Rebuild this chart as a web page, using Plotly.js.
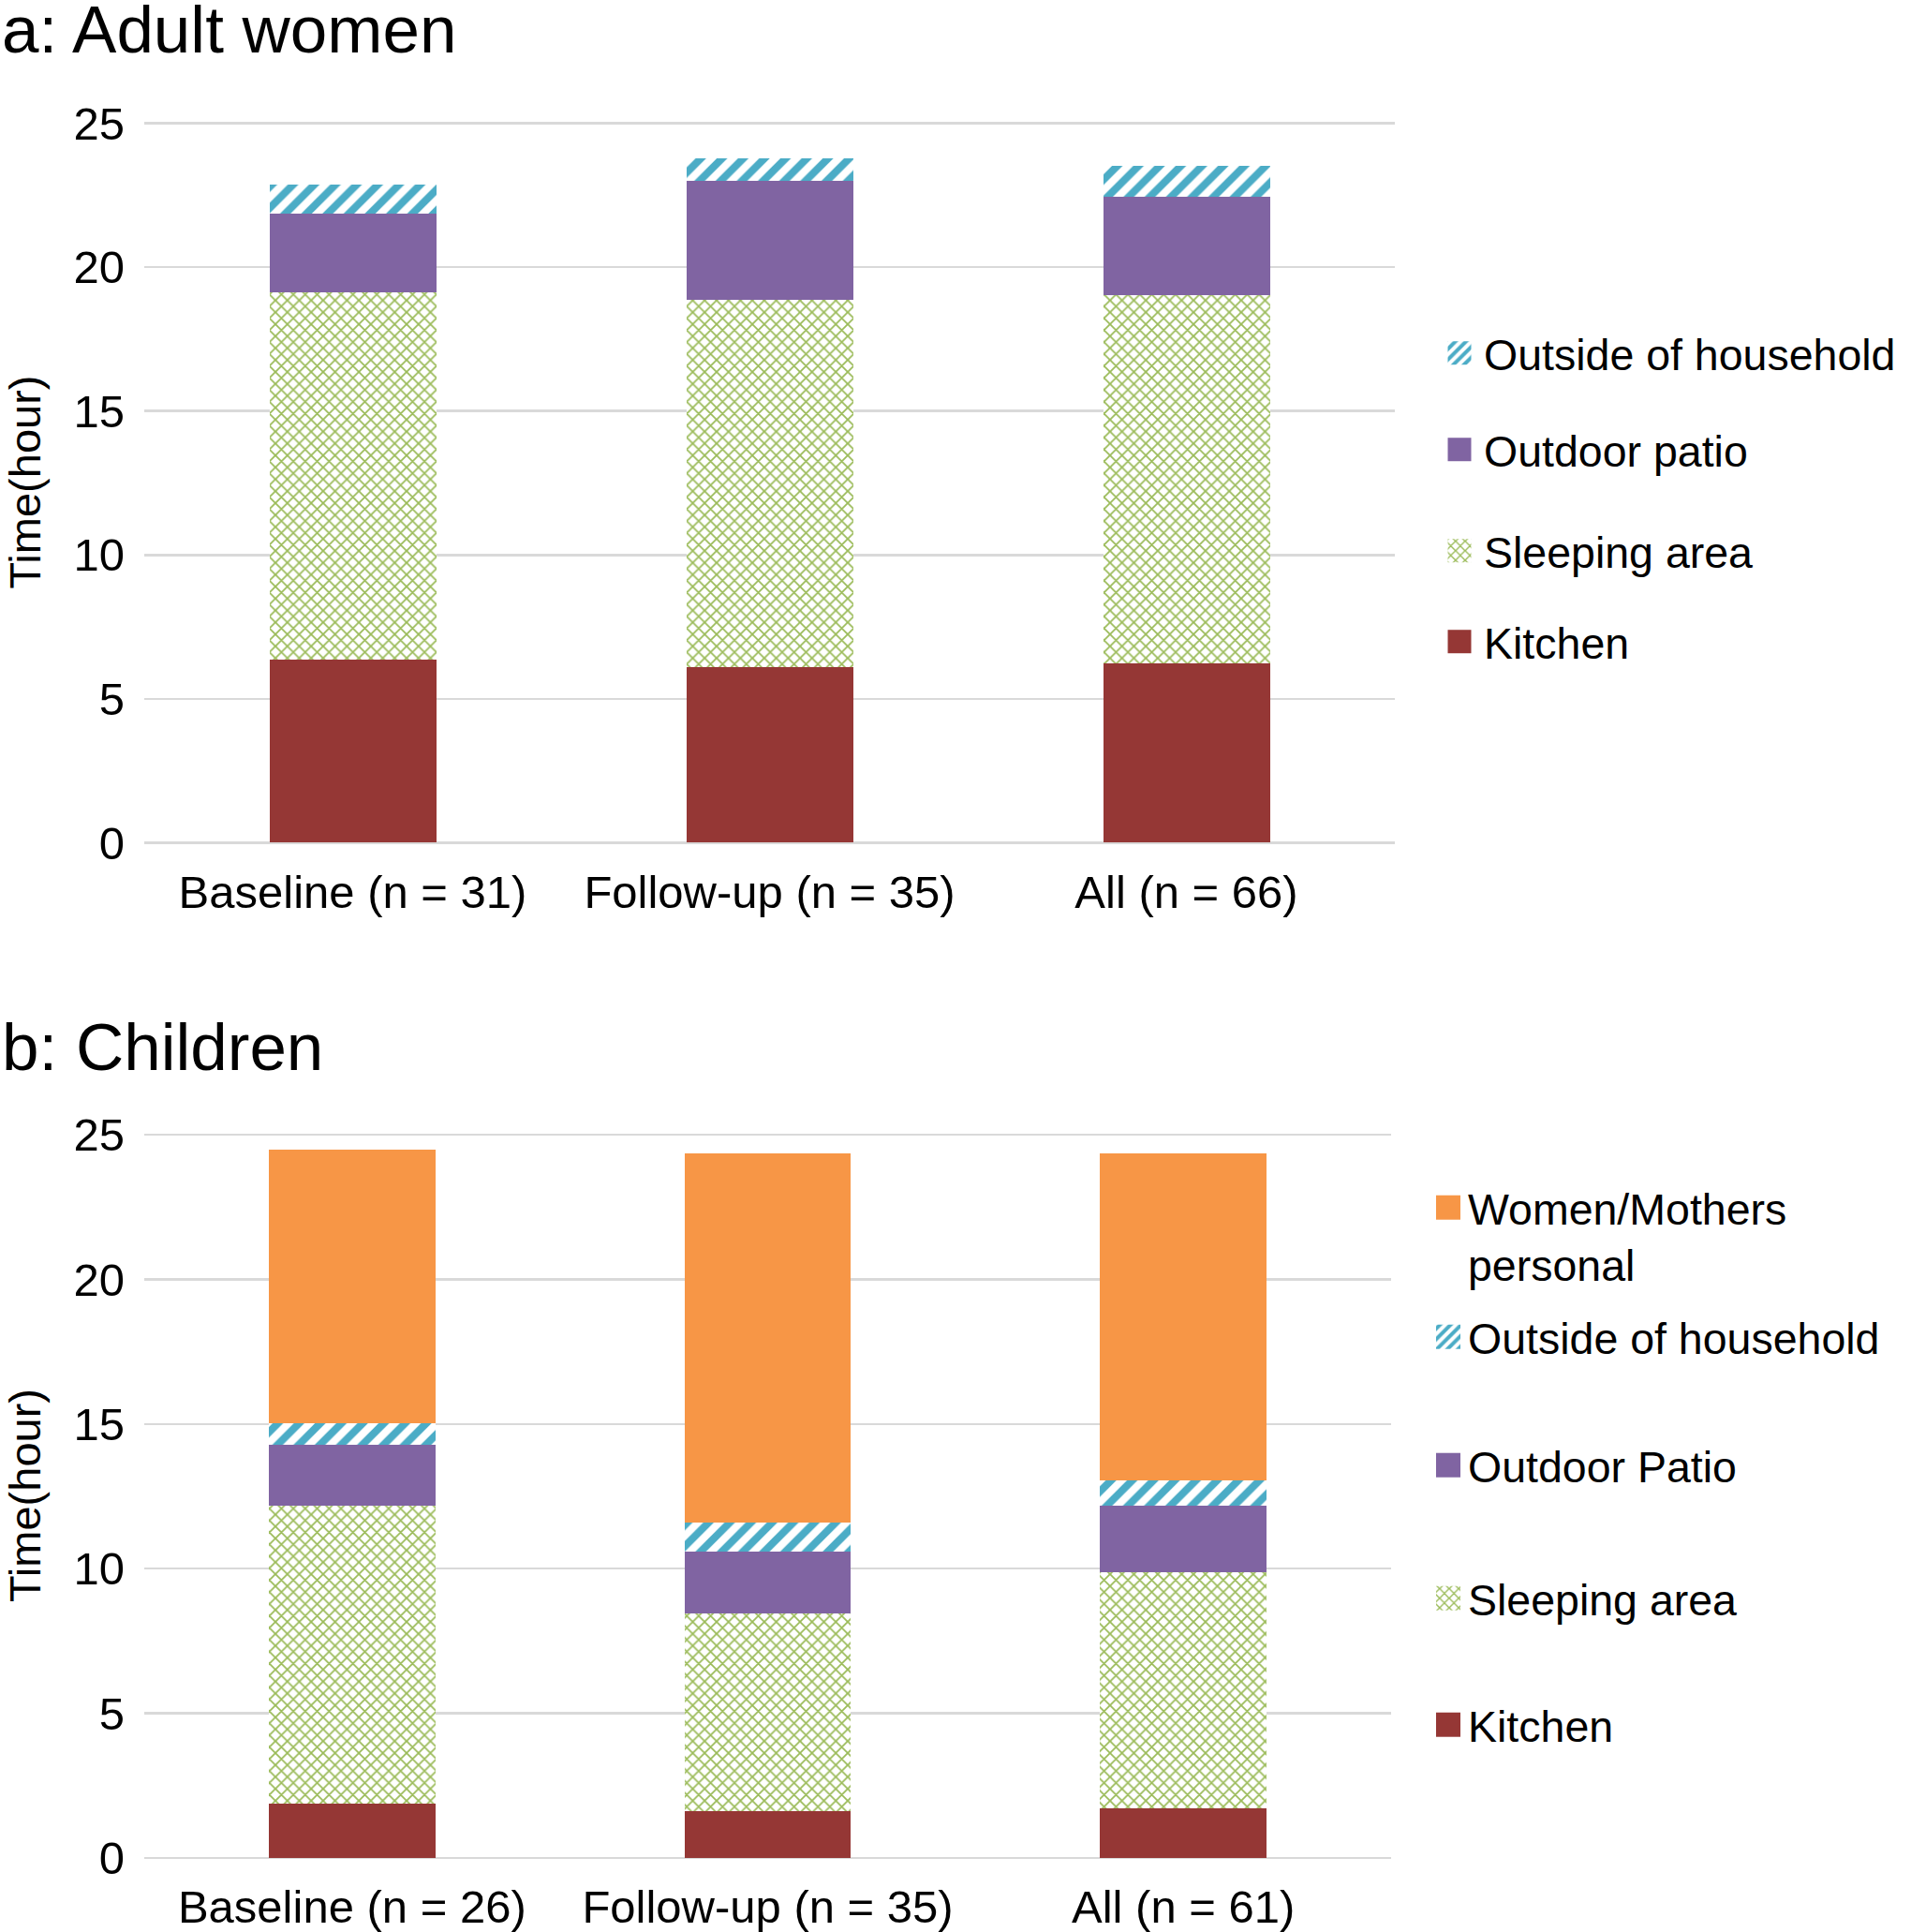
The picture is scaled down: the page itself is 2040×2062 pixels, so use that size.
<!DOCTYPE html>
<html>
<head>
<meta charset="utf-8">
<script src="https://cdn.plot.ly/plotly-3.0.1.min.js"></script>
<style>html,body{margin:0;padding:0;background:#fff;}#chart{width:2040px;height:2062px;}</style>
</head>
<body>
<div id="chart"></div>
<script>
// ---- data ----
const categoriesWomen = ['Baseline (n = 31)', 'Follow-up (n = 35)', 'All (n = 66)'];
const categoriesChildren = ['Baseline (n = 26)', 'Follow-up (n = 35)', 'All (n = 61)'];

const womenKitchen  = [6.37, 6.10, 6.22];
const womenSleeping = [12.76, 12.78, 12.80];
const womenPatio    = [2.72, 4.11, 3.41];
const womenOutside  = [1.03, 0.79, 1.08];

const childKitchen  = [1.87, 1.62, 1.72];
const childSleeping = [10.30, 6.83, 8.17];
const childPatio    = [2.12, 2.13, 2.28];
const childOutside  = [0.75, 1.02, 0.87];
const childMothers  = [9.45, 12.75, 11.31];

const yTickVals = [0, 5, 10, 15, 20, 25];

// ---- styles ----
const FONT = 'Arial, "Liberation Sans", sans-serif';
const C_KITCHEN = '#953735';
const C_PATIO = '#8064A2';
const C_OUTSIDE = '#4BACC6';
const C_SLEEP = '#9BBB59';
const C_MOTHER = '#F79646';

function solid(color) {
  return {color: color, line: {width: 0}};
}
function stripes() {
  return {color: C_OUTSIDE, line: {width: 0},
    pattern: {shape: '/', fgcolor: C_OUTSIDE, bgcolor: '#ffffff', size: 16, solidity: 0.5}};
}
function dots() {
  return {color: C_SLEEP, line: {width: 0},
    pattern: {shape: 'x', fgcolor: C_SLEEP, bgcolor: '#ffffff', size: 9, solidity: 0.35}};
}

function bar(x, y, name, marker, xa, ya, legend) {
  return {type: 'bar', x: x, y: y, name: name, marker: marker,
    xaxis: xa, yaxis: ya, legend: legend, hoverinfo: 'y+name'};
}

const traces = [
  bar(categoriesWomen, womenKitchen, 'Kitchen', solid(C_KITCHEN), 'x', 'y', 'legend4'),
  bar(categoriesWomen, womenSleeping, 'Sleeping area', dots(), 'x', 'y', 'legend3'),
  bar(categoriesWomen, womenPatio, 'Outdoor patio', solid(C_PATIO), 'x', 'y', 'legend2'),
  bar(categoriesWomen, womenOutside, 'Outside of household', stripes(), 'x', 'y', 'legend'),

  bar(categoriesChildren, childKitchen, 'Kitchen', solid(C_KITCHEN), 'x2', 'y2', 'legend9'),
  bar(categoriesChildren, childSleeping, 'Sleeping area', dots(), 'x2', 'y2', 'legend8'),
  bar(categoriesChildren, childPatio, 'Outdoor Patio', solid(C_PATIO), 'x2', 'y2', 'legend7'),
  bar(categoriesChildren, childOutside, 'Outside of household', stripes(), 'x2', 'y2', 'legend6'),
  bar(categoriesChildren, childMothers, 'Women/Mothers<br>personal', solid(C_MOTHER), 'x2', 'y2', 'legend5')
];

const H = 2062, W = 2040;
const py = p => 1 - p / H;
const px = p => p / W;
const YMAX = 25.06; // tiny headroom so the 25 gridline is drawn

function xaxis(d0, d1, anchor) {
  return {domain: [px(d0), px(d1)], anchor: anchor, showgrid: false, showline: false,
    zeroline: false, ticks: '', ticklabelstandoff: 19,
    tickfont: {family: FONT, size: 49, color: '#000'}, fixedrange: true};
}
function yaxis(d0, d1, anchor) {
  return {domain: [py(d1), py(d0)], anchor: anchor, range: [0, YMAX],
    tickvals: yTickVals, ticktext: yTickVals.map(String),
    showgrid: true, gridcolor: '#D9D9D9', gridwidth: 2.5,
    zeroline: true, zerolinecolor: '#D9D9D9', zerolinewidth: 2.5,
    showline: false, ticks: '', ticklabelstandoff: 20,
    tickfont: {family: FONT, size: 49, color: '#000'},
    title: {text: 'Time(hour)', font: {family: FONT, size: 47, color: '#000'}, standoff: 28},
    fixedrange: true};
}

function leg(xp, yp, valign) {
  return {x: px(xp), y: py(yp), xanchor: 'left', yanchor: 'middle',
    bgcolor: 'rgba(0,0,0,0)', borderwidth: 0, valign: valign || 'middle',
    font: {family: FONT, size: 46.5, color: '#000'}};
}

// plot areas: 25-line at 131.5 / 1211, 0-line at 899.5 / 1983
const topPx = (y25, y0) => y25 - (YMAX - 25) * (y0 - y25) / 25;

const layout = {
  width: W, height: H,
  margin: {l: 0, r: 0, t: 0, b: 0},
  paper_bgcolor: '#fff', plot_bgcolor: '#fff',
  barmode: 'stack', bargap: 0.6,
  font: {family: FONT, color: '#000'},
  showlegend: true,
  xaxis: xaxis(154, 1489, 'y'),
  yaxis: yaxis(topPx(131.5, 899.5), 899.5, 'x'),
  xaxis2: xaxis(154, 1485, 'y2'),
  yaxis2: yaxis(topPx(1211, 1983), 1983, 'x2'),
  legend:  leg(1544, 377),
  legend2: leg(1544, 480),
  legend3: leg(1544, 588),
  legend4: leg(1544, 685),
  legend5: leg(1527, 1319, 'top'),
  legend6: leg(1527, 1427),
  legend7: leg(1527, 1564),
  legend8: leg(1527, 1706),
  legend9: leg(1527, 1841),
  annotations: [
    {text: 'a: Adult women', xref: 'paper', yref: 'paper', x: 0, y: py(32),
     xanchor: 'left', yanchor: 'middle', showarrow: false,
     font: {family: FONT, size: 71, color: '#000'}},
    {text: 'b: Children', xref: 'paper', yref: 'paper', x: 0, y: py(1117),
     xanchor: 'left', yanchor: 'middle', showarrow: false,
     font: {family: FONT, size: 71, color: '#000'}}
  ]
};

const topLegends = ['legend', 'legend2', 'legend3', 'legend4'];
const bottomLegends = ['legend5', 'legend6', 'legend7', 'legend8', 'legend9'];

function enlargeSwatches() {
  // the reference uses bigger legend squares than Plotly's default 12px swatch
  topLegends.forEach(function (id) {
    document.querySelectorAll('g.' + id + ' .legendpoints path').forEach(function (p) {
      p.setAttribute('d', 'M6.5,12.5H-18.5V-12.5H6.5Z');
    });
  });
  bottomLegends.forEach(function (id) {
    document.querySelectorAll('g.' + id + ' .legendpoints path').forEach(function (p) {
      p.setAttribute('d', 'M12,13H-14V-13H12Z');
    });
  });
}

Plotly.newPlot('chart', traces, layout, {displayModeBar: false, staticPlot: true})
  .then(function (gd) {
    enlargeSwatches();
    gd.on('plotly_afterplot', enlargeSwatches);
  });
</script>
</body>
</html>
